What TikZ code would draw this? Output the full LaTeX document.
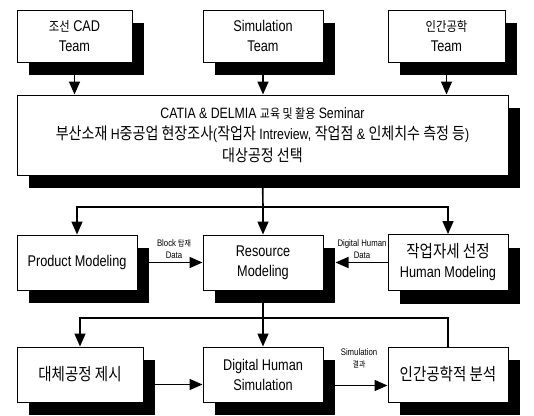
\documentclass[tikz,border=0pt]{standalone}
\usepackage{fontspec}
\usetikzlibrary{arrows.meta,calc}
\setmainfont{Liberation Sans}[FakeStretch=0.82]
\newfontfamily\kr{Noto Sans CJK KR}[FakeStretch=0.85,Scale=1.1]
\newfontfamily\krs{Noto Sans CJK KR}[FakeStretch=0.85,Scale=0.86]
\tikzset{
  box/.style={draw=black,line width=1pt,fill=white,align=center,inner sep=0pt,
    font=\fontsize{15.5}{20}\selectfont},
  shstrip/.style={draw=black},
  arr/.style={line width=1.6pt,-{Triangle[length=13pt,width=11pt]}},
  ln/.style={line width=1.6pt},
  lbl/.style={font=\fontsize{9.5}{12}\selectfont,align=center,inner sep=0pt}
}
\newcommand{\shd}[4]{%
  \draw[shstrip,line width=12pt] ({#3+6},{#2+13}) -- ({#3+6},{#4+13});
  \draw[shstrip,line width=13pt] ({#1+12},{#4+6.5}) -- ({#3+12},{#4+6.5});}
\begin{document}
\begin{tikzpicture}[x=1pt,y=-1pt]
\useasboundingbox (0,0) rectangle (534,415);
% shadows (drawn as strips)
\shd{17}{10}{132}{62}
\shd{203}{10}{323}{62}
\shd{388}{10}{505}{62}
\shd{17}{95}{508}{175}
\shd{17}{235}{137}{290}
\shd{203}{235}{323}{290}
\shd{388}{234.5}{508}{290.5}
\shd{17}{347}{143}{402}
\shd{203}{347}{323}{402}
\shd{388}{347}{508}{402}
% top row
\node[box,minimum width=115pt,minimum height=52pt] (t1) at (74.5,36) {{\krs 조선} CAD\\Team};
\node[box,minimum width=120pt,minimum height=52pt] (t2) at (263,36) {Simulation\\Team};
\node[box,minimum width=117pt,minimum height=52pt] (t3) at (446.5,36) {{\krs 인간공학}\\Team};
% big box
\node[box,minimum width=491pt,minimum height=80pt,font=\fontsize{15}{21.5}\selectfont] (big) at (262.5,135)
  {CATIA \& DELMIA {\krs 교육 및 활용} Seminar\\
   {\kr 부산소재} H{\kr 중공업 현장조사}({\kr 작업자} Intreview, {\kr 작업점} \& {\kr 인체치수 측정 등})\\
   {\kr 대상공정 선택}};
% row 2
\node[box,minimum width=120pt,minimum height=55pt] (r1) at (77,262.5) {Product Modeling};
\node[box,minimum width=120pt,minimum height=55pt] (r2) at (263,262.5) {Resource\\Modeling};
\node[box,minimum width=120pt,minimum height=56pt] (r3) at (448,262.5) {{\kr 작업자세 선정}\\Human Modeling};
% row 3
\node[box,minimum width=126pt,minimum height=55pt] (b1) at (80,374.5) {{\kr 대체공정 제시}};
\node[box,minimum width=120pt,minimum height=55pt] (b2) at (263,374.5) {Digital Human\\Simulation};
\node[box,minimum width=120pt,minimum height=55pt] (b3) at (448,374.5) {{\kr 인간공학적 분석}};
% labels
\node[lbl] (l1) at (174,249) {Block {\krs 탑재}\\Data};
\node[lbl] (l2) at (362,249) {Digital Human\\Data};
\node[lbl] (l3) at (359,358) {Simulation\\{\krs 결과}};
\coordinate (j1) at (263,207);
\coordinate (j2) at (263,318);
\draw[arr] (t1.south) -- (t1.south |- big.north);
\draw[arr] (t2.south) -- (t2.south |- big.north);
\draw[arr] (t3.south) -- (t3.south |- big.north);
\draw[ln] (big.south) -- (j1);
\draw[arr] (j1) -| (r1.north);
\draw[arr] (j1) -- (r2.north);
\draw[arr] (j1) -| (r3.north);
\draw[arr] (r1.east) -- (r2.west);
\draw[arr,shorten >=12pt] (r3.west) -- (r2.east);
\draw[arr] (r2.south) -- (b2.north);
\draw[ln] (b3.north) |- (j2);
\draw[arr] (j2) -| (b1.north);
\draw[arr] ([yshift=-10pt]b1.east) -- ([yshift=-10pt]b2.west);
\draw[arr] ([yshift=-11pt]b2.east) -- ([yshift=-11pt]b3.west);
\end{tikzpicture}
\end{document}
